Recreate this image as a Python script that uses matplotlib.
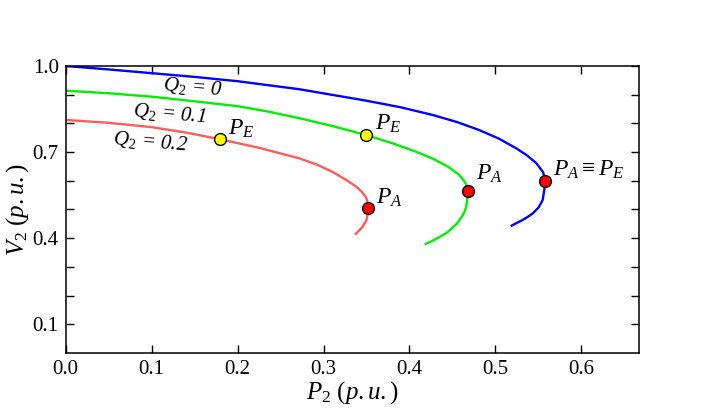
import matplotlib
matplotlib.use("Agg")
import matplotlib.pyplot as plt
from matplotlib.ticker import MultipleLocator, FixedLocator, FormatStrFormatter

plt.rcParams['font.family'] = ['Liberation Serif', 'DejaVu Serif']
plt.rcParams['mathtext.fontset'] = 'custom'
plt.rcParams['mathtext.it'] = 'Liberation Serif:italic'
plt.rcParams['mathtext.rm'] = 'Liberation Serif'

# Q2 = 0 curve (blue)
p_q0 = [0.0, 0.05, 0.10, 0.15, 0.20, 0.272, 0.350, 0.390, 0.4275, 0.455, 0.481, 0.504, 0.5244, 0.537, 0.5477, 0.5555, 0.558, 0.557, 0.555, 0.5505, 0.5437, 0.538, 0.532, 0.519]
v_q0 = [1.0, 0.988, 0.975, 0.962, 0.947, 0.919, 0.879, 0.856, 0.829, 0.805, 0.777, 0.747, 0.713, 0.688, 0.661, 0.630, 0.600, 0.570, 0.533, 0.508, 0.487, 0.475, 0.464, 0.444]
# Q2 = 0.1 curve (green)
p_q1 = [0.0, 0.05, 0.10, 0.15, 0.20, 0.236, 0.272, 0.310, 0.349, 0.380, 0.408, 0.428, 0.445, 0.458, 0.4635, 0.4665, 0.468, 0.4675, 0.466, 0.4645, 0.462, 0.455, 0.444, 0.432, 0.419]
v_q1 = [0.914, 0.905, 0.893, 0.877, 0.860, 0.841, 0.818, 0.791, 0.760, 0.731, 0.701, 0.676, 0.649, 0.620, 0.600, 0.585, 0.566, 0.540, 0.510, 0.495, 0.480, 0.450, 0.420, 0.399, 0.380]
# Q2 = 0.2 curve (red)
p_q2 = [0.0, 0.05, 0.10, 0.14, 0.179, 0.225, 0.272, 0.292, 0.311, 0.326, 0.338, 0.345, 0.350, 0.3515, 0.352, 0.3515, 0.350, 0.345, 0.3376]
v_q2 = [0.812, 0.802, 0.787, 0.768, 0.745, 0.715, 0.678, 0.657, 0.630, 0.604, 0.580, 0.560, 0.539, 0.522, 0.504, 0.485, 0.463, 0.438, 0.415]

# Operating points
pa_p = [0.558, 0.468, 0.352]
pa_v = [0.600, 0.566, 0.504]
pe_p = [0.349, 0.179]
pe_v = [0.760, 0.745]

fig = plt.figure(figsize=(7.06, 4.19), dpi=100)
ax = fig.add_axes([0.093, 0.1575, 0.812, 0.685])

ax.plot(p_q0, v_q0, color='#0000ff', lw=1.7, zorder=2, solid_joinstyle='round')
ax.plot(p_q1, v_q1, color='#00ee00', lw=1.7, zorder=2, solid_joinstyle='round')
ax.plot(p_q2, v_q2, color='#ff5c5c', lw=1.7, zorder=2, solid_joinstyle='round')

ax.plot(pa_p, pa_v, 'o', color='#ff0000', mec='black', mew=1.0, ms=8.5, zorder=3, linestyle='none')
ax.plot(pe_p, pe_v, 'o', color='#ffff00', mec='black', mew=1.0, ms=8.5, zorder=3, linestyle='none')

ax.set_xlim(0, 0.667)
ax.set_ylim(0, 1.0)
ax.xaxis.set_major_locator(MultipleLocator(0.1))
ax.yaxis.set_major_locator(FixedLocator([0.1, 0.4, 0.7, 1.0]))
ax.yaxis.set_minor_locator(FixedLocator([0.2, 0.3, 0.5, 0.6, 0.8, 0.9]))
ax.xaxis.set_major_formatter(FormatStrFormatter('%.1f'))
ax.yaxis.set_major_formatter(FormatStrFormatter('%.1f'))
ax.tick_params(which='both', direction='in', top=True, right=True, length=6, width=1.0)
ax.tick_params(which='major', labelsize=15, pad=5)
for s in ax.spines.values():
    s.set_linewidth(1.1)

ax.set_xlabel('$P_2\\ (p.u.)$', fontsize=18, labelpad=0)
ax.set_ylabel('$V_2\\ (p.u.)$', fontsize=18, labelpad=1)

ts = 15
ax.text(0.148, 0.925, '$Q_2$ = 0', fontsize=ts, style='italic', rotation=-5, ha='center', va='center')
ax.text(0.121, 0.833, '$Q_2$ = 0.1', fontsize=ts, style='italic', rotation=-5, ha='center', va='center')
ax.text(0.099, 0.736, '$Q_2$ = 0.2', fontsize=ts, style='italic', rotation=-5, ha='center', va='center')

ls = 17
ax.text(0.189, 0.760, '$P_E$', fontsize=ls, ha='left', va='baseline')
ax.text(0.3597, 0.777, '$P_E$', fontsize=ls, ha='left', va='baseline')
ax.text(0.3616, 0.5215, '$P_A$', fontsize=ls, ha='left', va='baseline')
ax.text(0.478, 0.603, '$P_A$', fontsize=ls, ha='left', va='baseline')
ax.text(0.567, 0.617, '$P_A\\equiv P_E$', fontsize=ls, ha='left', va='baseline')

fig.savefig('out.png', dpi=100)
